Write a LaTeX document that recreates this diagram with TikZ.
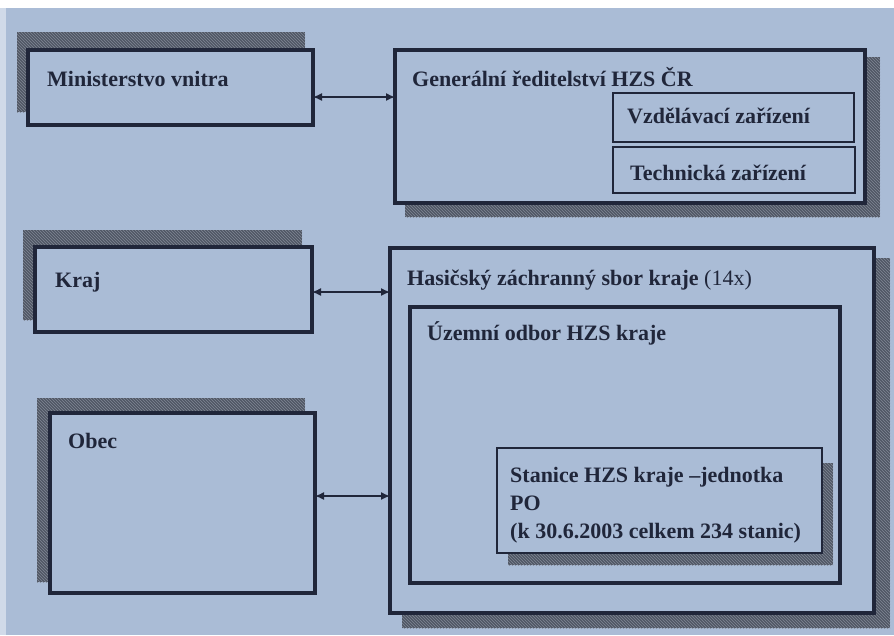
\documentclass[tikz,border=0pt]{standalone}
\usepackage{fontspec}
\setmainfont{Liberation Serif}
\usetikzlibrary{arrows.meta,patterns}
\definecolor{bg}{RGB}{170,188,214}
\definecolor{ink}{RGB}{32,38,58}
\definecolor{shd}{RGB}{80,86,100}
\definecolor{hatch}{RGB}{128,136,150}
\begin{document}
\begin{tikzpicture}[x=1pt,y=-1pt,
  box/.style={draw=ink, line width=3.5pt, fill=bg, rectangle, inner sep=0pt, outer sep=0pt, anchor=north west},
  thinbox/.style={draw=ink, line width=2pt, fill=bg, rectangle, inner sep=0pt, outer sep=0pt, anchor=north west},
  shadowfill/.style={fill=shd, postaction={pattern=north west lines, pattern color=hatch}},
  lbl/.style={text=ink, font=\fontsize{22}{28}\selectfont\bfseries, anchor=base west, inner sep=0pt},
  conn/.style={draw=ink, line width=1.5pt, {Latex[length=9pt,width=8pt]}-{Latex[length=9pt,width=8pt]}}]
\useasboundingbox (0,0) rectangle (894,635);
\fill[bg] (0,0) rectangle (894,635);
\fill[white] (0,0) rectangle (894,8);
\fill[bg!55!white] (0,8) rectangle (6,635);
% shadows
\fill[shadowfill] (17,32) rectangle (305,112);
\fill[shadowfill] (405,57) rectangle (880,217);
\fill[shadowfill] (23,230) rectangle (302,320);
\fill[shadowfill] (37,398) rectangle (305,582);
\fill[shadowfill] (402,258) rectangle (890,628);
% boxes
\node[box, minimum width=285pt, minimum height=75pt] (min) at (28,50) {};
\node[box, minimum width=470pt, minimum height=153pt] (gen) at (395,50) {};
\node[thinbox, minimum width=241pt, minimum height=49pt] (vzd) at (613,93) {};
\node[thinbox, minimum width=242pt, minimum height=46pt] (tech) at (613,147) {};
\node[box, minimum width=277pt, minimum height=85pt] (kraj) at (35,247) {};
\node[box, minimum width=484pt, minimum height=365pt] (hzs) at (390,248) {};
\node[box, minimum width=430pt, minimum height=276pt] (uzem) at (410,307) {};
\node[box, minimum width=265pt, minimum height=180pt] (obec) at (50,413) {};
\fill[shadowfill] (508,463) rectangle (833,565);
\node[thinbox, minimum width=325pt, minimum height=105pt] (stan) at (497,448) {};
% labels
\node[lbl] (tmin) at (47,86) {Ministerstvo vnitra};
\node[lbl] (tgen) at (412,86) {Generální ředitelství HZS ČR};
\node[lbl] (tvzd) at (627,123) {Vzdělávací zařízení};
\node[lbl] (ttech) at (630,180) {Technická zařízení};
\node[lbl] (tkraj) at (55,287) {Kraj};
\node[lbl] (thzs) at (407,285) {Hasičský záchranný sbor kraje {\mdseries(14x)}};
\node[lbl] (tuzem) at (427,340) {Územní odbor HZS kraje};
\node[lbl] (tobec) at (68,448) {Obec};
\node[lbl] (tst1) at (510,482) {Stanice HZS kraje –jednotka};
\node[lbl] (tst2) at (510,510) {PO};
\node[lbl] (tst3) at (510,538) {(k 30.6.2003 celkem 234 stanic)};
% connectors
\draw[conn] (min.east |- 0,97) -- (gen.west |- 0,97);
\draw[conn] (kraj.east |- 0,292) -- (hzs.west |- 0,292);
\draw[conn] (obec.east |- 0,496) -- (hzs.west |- 0,496);
\end{tikzpicture}
\end{document}
